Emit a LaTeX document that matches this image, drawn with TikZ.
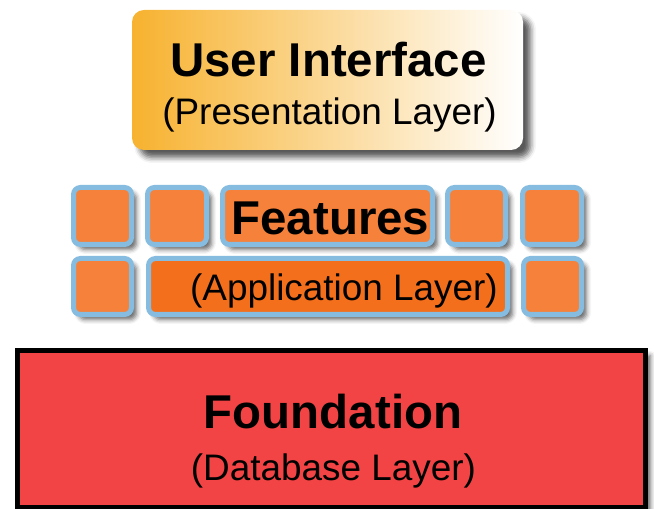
\documentclass[tikz,border=0pt]{standalone}
\usepackage{fontspec}
\setmainfont{Liberation Sans}
\usetikzlibrary{shadows.blur}
\definecolor{uiorange}{HTML}{F7B22F}
\definecolor{featorange}{HTML}{F5813B}
\definecolor{appdark}{HTML}{F36F1C}
\definecolor{featblue}{HTML}{86BCDF}
\definecolor{foundred}{HTML}{F24444}
\begin{document}
\begin{tikzpicture}[
    softshadow/.style={blur shadow={shadow xshift=0.1cm, shadow yshift=-0.1cm,
        shadow blur radius=0.09cm, shadow opacity=60}},
    featbox/.style={draw=featblue, line width=0.1cm, fill=featorange,
        rounded corners=0.14cm, softshadow},
    titletext/.style={font=\fontsize{27}{30}\selectfont\bfseries, anchor=base},
    subtext/.style={font=\fontsize{21}{24}\selectfont, anchor=base}]
            \useasboundingbox (0.000000,0.000000) rectangle (13.080000,10.160000);

            % Drawing presentation layer box
            \path [rounded corners=0.240000cm, left color=uiorange, right color=white,
                blur shadow={shadow xshift=0.15cm, shadow yshift=-0.15cm,
                shadow blur radius=0.11cm, shadow opacity=65}]
                (2.640000,7.160000) rectangle (10.460000,9.960000);%
            \node [titletext] (ui) at (6.570000,8.620000) {User Interface};%
            \node [subtext] (uisub) at (6.590000,7.660000) {(Presentation Layer)};%

            % Drawing feature boxes, upper row
            \draw [featbox] (1.470000,5.270000) rectangle (2.630000,6.410000);%
            \draw [featbox] (2.950000,5.270000) rectangle (4.130000,6.410000);%
            \draw [featbox] (4.450000,5.270000) rectangle (8.650000,6.410000);%
            \draw [featbox] (8.950000,5.270000) rectangle (10.110000,6.410000);%
            \draw [featbox] (10.450000,5.270000) rectangle (11.630000,6.410000);%
            \node [titletext] (feat) at (6.610000,5.460000) {Features};%

            % Drawing feature boxes, lower row
            \draw [featbox] (1.470000,3.870000) rectangle (2.630000,4.990000);%
            \draw [featbox, fill=appdark] (2.970000,3.870000) rectangle (10.150000,4.990000);%
            \draw [featbox] (10.470000,3.870000) rectangle (11.630000,4.990000);%
            \node [subtext] (featsub) at (6.880000,4.140000) {(Application Layer)};%

            % Drawing database layer box
            \draw [line width=0.1cm, fill=foundred, softshadow]
                (0.350000,0.010000) rectangle (12.910000,3.150000);%
            \node [titletext] (found) at (6.660000,1.600000) {Foundation};%
            \node [subtext] (foundsub) at (6.670000,0.560000) {(Database Layer)};%
\end{tikzpicture}
\end{document}
